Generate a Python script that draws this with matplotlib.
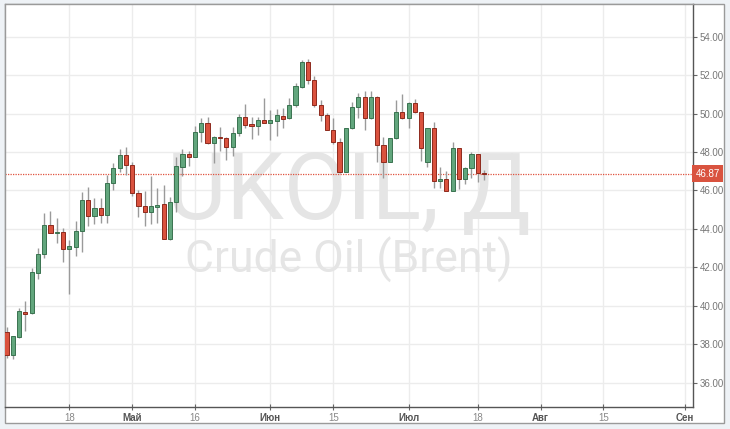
import numpy as np
import matplotlib
matplotlib.use("Agg")
import matplotlib.pyplot as plt
from matplotlib.patches import Rectangle
from matplotlib.transforms import blended_transform_factory

# ---------------- data ----------------
start_date = "2016-04-04"
opens = [38.65, 37.45, 38.36, 39.68, 39.60, 41.72, 42.68, 44.19, 43.80, 43.82,
         42.97, 43.07, 43.91, 45.50, 44.69, 45.10, 44.72, 46.37, 47.19, 47.85,
         47.33, 45.88, 45.19, 44.90, 45.15, 45.30, 43.47, 45.38, 47.20, 47.90,
         47.76, 49.03, 49.49, 48.45, 48.80, 48.75, 48.28, 49.00, 49.84, 49.44,
         49.37, 49.67, 49.53, 49.63, 49.87, 49.75, 50.45, 51.40, 52.67, 51.75,
         50.45, 49.93, 49.15, 48.54, 46.98, 49.23, 50.33, 50.88, 49.75, 50.88,
         48.37, 47.50, 48.71, 50.10, 49.75, 50.57, 50.07, 47.46, 49.23, 46.49,
         46.58, 45.99, 48.19, 46.58, 47.15, 47.88, 46.92]
highs = [38.90, 38.45, 39.90, 40.25, 41.95, 43.00, 44.80, 44.93, 44.58, 44.03,
         43.40, 44.43, 45.94, 46.17, 45.59, 45.60, 46.80, 47.41, 48.14, 48.28,
         47.50, 46.00, 45.97, 46.75, 46.10, 46.28, 45.68, 47.72, 48.14, 48.07,
         49.37, 49.79, 49.81, 48.82, 49.32, 48.77, 49.29, 49.96, 50.48, 49.81,
         49.80, 50.79, 50.19, 50.22, 50.27, 50.79, 51.57, 52.79, 52.82, 51.96,
         50.71, 50.01, 49.75, 48.71, 49.27, 50.62, 51.05, 51.19, 51.19, 50.92,
         48.80, 48.75, 50.70, 51.00, 50.60, 50.74, 50.10, 49.25, 49.55, 47.20,
         47.03, 48.54, 48.21, 47.20, 48.02, 47.92, 47.06]
lows = [37.30, 37.25, 38.30, 38.70, 39.55, 41.40, 42.50, 43.78, 43.28, 42.26,
        40.60, 42.59, 42.80, 44.17, 44.26, 44.30, 44.30, 46.02, 46.98, 46.80,
        45.70, 44.60, 44.17, 44.26, 44.30, 43.45, 43.40, 44.90, 46.77, 47.27,
        47.74, 48.54, 48.43, 47.41, 48.05, 47.58, 47.79, 48.85, 49.27, 48.68,
        48.89, 49.50, 48.63, 48.83, 49.27, 49.73, 50.33, 51.31, 51.54, 50.33,
        49.63, 49.13, 48.42, 46.89, 46.95, 49.20, 49.75, 49.15, 49.73, 47.50,
        46.63, 47.48, 48.70, 49.73, 49.23, 50.05, 47.53, 47.20, 46.11, 46.11,
        45.97, 45.97, 46.06, 46.34, 46.63, 46.46, 46.54]
closes = [37.45, 38.40, 39.70, 39.57, 41.74, 42.69, 44.19, 43.80, 43.84, 42.97,
          43.09, 43.91, 45.50, 44.69, 45.10, 44.72, 46.37, 47.19, 47.85, 47.33,
          45.88, 45.19, 44.90, 45.19, 45.26, 43.47, 45.40, 47.25, 47.90, 47.76,
          49.03, 49.49, 48.45, 48.80, 48.71, 48.28, 49.00, 49.84, 49.41, 49.35,
          49.67, 49.53, 49.67, 49.91, 49.73, 50.45, 51.43, 52.67, 51.75, 50.45,
          49.93, 49.15, 48.54, 46.98, 49.23, 50.33, 50.88, 49.75, 50.88, 48.37,
          47.50, 48.71, 50.10, 49.75, 50.57, 50.07, 48.19, 49.23, 46.51, 46.58,
          45.99, 48.19, 46.58, 47.15, 47.88, 46.92, 46.87]
last_price = 46.87

tick_dates = ["2016-04-18", "2016-05-02", "2016-05-16", "2016-06-01", "2016-06-15",
              "2016-07-01", "2016-07-18", "2016-08-01", "2016-08-15", "2016-09-01"]
tick_labels = ["18", "Май", "16", "Июн", "15", "Июл", "18", "Авг", "15", "Сен"]
month_labels = {"Май", "Июн", "Июл", "Авг", "Сен"}
y_ticks = [36, 38, 40, 42, 44, 46, 48, 50, 52, 54]
watermark_1 = "UKOIL, Д"
watermark_2 = "Crude Oil (Brent)"

# ---------------- figure ----------------
W, H = 730, 429
fig = plt.figure(figsize=(W / 100, H / 100), dpi=100, facecolor="#eef2f6")

outer = Rectangle((5 / W, (H - 423) / H), (724 - 5) / W, (423 - 4) / H,
                  transform=fig.transFigure, fc="white", ec="#9a9a9a", lw=1,
                  zorder=-5)
fig.patches.append(outer)

ax = fig.add_axes([5 / W, (H - 407) / H, (693 - 5) / W, (407 - 4) / H])
ax.set_facecolor("white")

x = np.arange(len(opens))
o = np.array(opens); h = np.array(highs); l = np.array(lows); c = np.array(closes)
up = c >= o

ax.set_xlim(-0.24, 109.26)
ax.set_ylim(34.73, 55.70)

# grid
ax.set_yticks(y_ticks)
tick_pos = np.busday_count(np.datetime64(start_date),
                           np.array(tick_dates, dtype="datetime64[D]"))
ax.set_xticks(tick_pos)
ax.set_xticklabels(tick_labels)
ax.grid(True, color="#ececec", lw=1, zorder=0)
ax.set_axisbelow(True)

# watermark
ax.text(0.5, 0.466, watermark_1, transform=ax.transAxes, ha="center",
        va="baseline", fontsize=66, color="#e5e5e5", family="Roboto", zorder=1)
ax.text(0.5, 0.333, watermark_2, transform=ax.transAxes, ha="center",
        va="baseline", fontsize=32, color="#e5e5e5", family="Roboto", zorder=1)

# current price line
ax.axhline(last_price, color="#e0533f", lw=0.9, ls=(0, (1, 1)), zorder=2)

# candles
ax.vlines(x, l, h, color="#9a9a9a", lw=1, zorder=3)
body_h = np.where(np.abs(c - o) < 0.04, 0.04 * np.sign(c - o + 1e-9), c - o)
ax.bar(x[up], body_h[up], bottom=o[up], width=0.66, color="#62a67d",
       edgecolor="#3a7350", lw=0.7, zorder=4)
ax.bar(x[~up], body_h[~up], bottom=o[~up], width=0.66, color="#da523e",
       edgecolor="#8e2a1d", lw=0.7, zorder=4)

# axes styling
ax.yaxis.tick_right()
ax.yaxis.set_major_formatter(matplotlib.ticker.FormatStrFormatter("%.2f"))
ax.tick_params(axis="y", direction="out", length=3, width=0.8, color="#666666",
               labelsize=7, labelcolor="#777777", pad=2)
ax.tick_params(axis="x", direction="inout", length=5, width=0.8, color="#666666",
               labelsize=7, labelcolor="#888888", pad=2)
for lab in ax.get_xticklabels():
    lab.set_family(["Liberation Sans Narrow", "Liberation Sans"])
    if lab.get_text() in month_labels:
        lab.set_color("#555555")
        lab.set_fontweight("bold")
for lab in ax.get_yticklabels():
    lab.set_family("Liberation Sans")

ax.spines["left"].set_color("#9a9a9a")
ax.spines["top"].set_color("#9a9a9a")
ax.spines["right"].set_color("#555555")
ax.spines["bottom"].set_color("#555555")
for s in ax.spines.values():
    s.set_linewidth(1)

# price label
trans = blended_transform_factory(ax.transAxes, ax.transData)
ax.text(1.004, last_price, f"{last_price:.2f}", transform=trans, ha="left",
        va="center", fontsize=7, color="white", family="Liberation Sans",
        bbox=dict(boxstyle="square,pad=0.35", fc="#d9533f", ec="none"),
        clip_on=False, zorder=10)

fig.savefig("out.png", dpi=100, facecolor=fig.get_facecolor())
